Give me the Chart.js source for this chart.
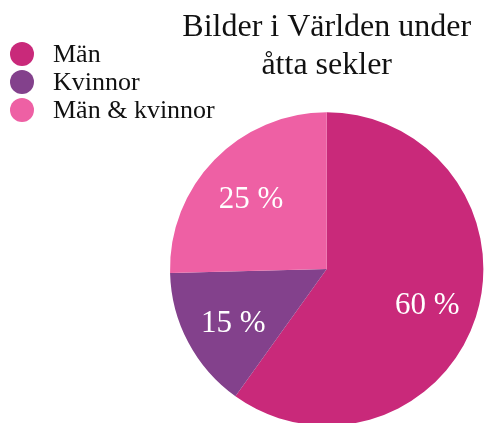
<!DOCTYPE html>
<html>
<head>
<meta charset="utf-8">
<script src="https://cdn.jsdelivr.net/npm/chart.js@4"></script>
<style>
    html, body { margin: 0; padding: 0; background: #fff; overflow: hidden; }
    #wrap { position: relative; width: 485px; height: 430px; }
    #legend { position: absolute; left: 0; top: 0; font-family: 'Liberation Serif', 'Times New Roman', serif; font-size: 26px; color: #111; }
    .item { position: absolute; left: 10px; height: 28px; line-height: 28px; display: flex; align-items: center; white-space: nowrap; }
    .dot { width: 24px; height: 24px; border-radius: 50%; margin-right: 19px; flex: none; }
</style>
</head>
<body>
<div id="wrap">
    <canvas id="pieChart" width="485" height="430"></canvas>
    <div id="legend"></div>
</div>
<script>
// Bilder i Världen – andel motiv
const categories = ['Män', 'Kvinnor', 'Män & kvinnor'];
const shares = [59.9, 14.7, 25.4];
const sliceColors = ['#C9297A', '#83418C', '#EE60A4'];
const titleLines = ['Bilder i Världen under', 'åtta sekler'];

// legend (html, top left)
const legendEl = document.getElementById('legend');
categories.forEach(function(name, i) {
    const row = document.createElement('div');
    row.className = 'item';
    row.style.top = (40 + i * 28) + 'px';
    const dot = document.createElement('span');
    dot.className = 'dot';
    dot.style.background = sliceColors[i];
    row.appendChild(dot);
    row.appendChild(document.createTextNode(name));
    legendEl.appendChild(row);
});

// percent labels inside the slices
const sliceLabels = {
    id: 'sliceLabels',
    afterDatasetsDraw(chart) {
        const ctx = chart.ctx;
        const meta = chart.getDatasetMeta(0);
        ctx.save();
        ctx.font = '31px "Liberation Serif", "Times New Roman", serif';
        ctx.fillStyle = '#ffffff';
        ctx.textAlign = 'center';
        ctx.textBaseline = 'alphabetic';
        meta.data.forEach(function(arc, i) {
            const p = arc.getProps(['x', 'y', 'startAngle', 'endAngle', 'outerRadius']);
            const mid = (p.startAngle + p.endAngle) / 2;
            const r = p.outerRadius * 0.675;
            ctx.fillText(Math.round(shares[i]) + ' %', p.x + Math.cos(mid) * r, p.y + Math.sin(mid) * r + 13);
        });
        ctx.restore();
    }
};

document.addEventListener('DOMContentLoaded', function() {
    const pieCtx = document.getElementById('pieChart').getContext('2d');
    const pieChart = new Chart(pieCtx, {
        type: 'pie',
        data: {
            labels: categories,
            datasets: [{
                data: shares,
                backgroundColor: sliceColors,
                borderWidth: 0
            }]
        },
        options: {
            responsive: false,
            animation: false,
            layout: {
                padding: { left: 170, right: 1.6, top: 0, bottom: 4.3 }
            },
            plugins: {
                legend: { display: false },
                tooltip: { enabled: false },
                title: {
                    display: true,
                    fullSize: false,
                    text: titleLines,
                    color: '#111',
                    font: { family: '"Liberation Serif", "Times New Roman", serif', size: 32, weight: 'normal', lineHeight: 1.21 },
                    padding: { top: 7.9, bottom: 27 }
                }
            }
        },
        plugins: [sliceLabels]
    });
});
</script>
</body>
</html>
